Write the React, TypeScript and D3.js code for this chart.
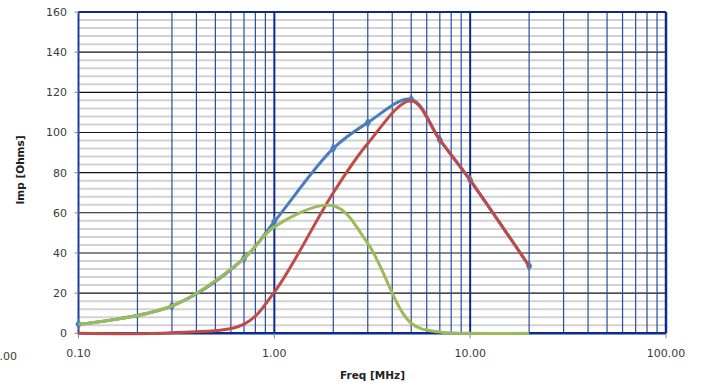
import React from "react";
import * as d3 from "d3";

const freqs = [0.1, 0.3, 0.7, 1, 2, 3, 5, 7, 10, 20];
const blueImp = [4.5, 13.6, 37.3, 55.6, 92.1, 104.9, 116.5, 96.3, 76.3, 33.5];
const redImp = [0, 0.3, 4.6, 20.5, 70, 94.5, 115.8, 96.3, 76.3, 33.5];
const greenImp = [4.5, 13.6, 37.3, 53, 63.5, 44.8, 5, 0.6, 0, 0];
const yTicks = [0, 20, 40, 60, 80, 100, 120, 140, 160];
const xTickLabels = ["0.10", "1.00", "10.00", "100.00"];
const xTickValues = [0.1, 1, 10, 100];

const W = 702;
const H = 383;
const L = 78.5;
const R = 666;
const T = 12;
const B = 333.3;

export default function App() {
  const x = d3.scaleLog().domain([0.1, 100]).range([L, R]);
  const y = d3.scaleLinear().domain([0, 160]).range([B, T]);

  const minorY = d3.range(0, 161, 4).filter((v) => v % 20 !== 0);
  const minorX: number[] = [];
  const majorX: number[] = [1, 10];
  [0.1, 1, 10].forEach((dec) => {
    for (let k = 2; k <= 9; k++) minorX.push(dec * k);
  });

  const line = d3
    .line<[number, number]>()
    .x((d) => x(d[0]))
    .y((d) => y(d[1]))
    .curve(d3.curveCatmullRom.alpha(0.5));

  const toPts = (vals: number[]) => freqs.map((f, i) => [f, vals[i]] as [number, number]);

  const diamond = d3.symbol().type(d3.symbolDiamond).size(34)() as string;

  return (
    <svg width={W} height={H} style={{ position: "absolute", left: 0, top: 0 }}>
      <rect x={0} y={0} width={W} height={H} fill="#fff" />
      {/* minor horizontal grid */}
      {minorY.map((v) => (
        <line key={"mh" + v} x1={L} x2={R} y1={y(v)} y2={y(v)} stroke="#d2d2d2" strokeWidth={2} />
      ))}
      {/* major horizontal grid */}
      {yTicks.map((v) => (
        <line key={"Mh" + v} x1={L} x2={R} y1={y(v)} y2={y(v)} stroke="#111" strokeWidth={1.1} />
      ))}
      {/* minor vertical grid */}
      {minorX.map((f) => (
        <line key={"mv" + f} x1={x(f)} x2={x(f)} y1={T} y2={B} stroke="#2b4aa3" strokeWidth={1.2} />
      ))}
      {majorX.map((f) => (
        <line key={"Mv" + f} x1={x(f)} x2={x(f)} y1={T} y2={B} stroke="#0c2a92" strokeWidth={2} />
      ))}
      {/* borders */}
      <line x1={L} x2={R} y1={T} y2={T} stroke="#0c2a92" strokeWidth={2} />
      <line x1={R} x2={R} y1={T} y2={B} stroke="#0c2a92" strokeWidth={2.5} />
      <line x1={L} x2={L} y1={T} y2={B + 1} stroke="#1e3f9e" strokeWidth={2} />
      <line x1={L} x2={R} y1={B} y2={B} stroke="#0c2a92" strokeWidth={2.5} />
      {/* y ticks */}
      {yTicks.map((v) => (
        <g key={"yt" + v}>
          <line x1={L - 4} x2={L} y1={y(v)} y2={y(v)} stroke="#888" strokeWidth={1} />
          <text x={67} y={y(v) + 4} textAnchor="end" fontFamily="DejaVu Sans, Verdana, sans-serif" fontSize={11} fill="#3a3a3a">
            {v}
          </text>
        </g>
      ))}
      {/* x ticks */}
      {xTickValues.map((f, i) => (
        <g key={"xt" + f}>
          <line x1={x(f)} x2={x(f)} y1={B} y2={B + 5} stroke="#888" strokeWidth={1} />
          <text x={x(f)} y={357} textAnchor="middle" fontFamily="DejaVu Sans, Verdana, sans-serif" fontSize={11} fill="#3a3a3a">
            {xTickLabels[i]}
          </text>
        </g>
      ))}
      <text x={17} y={360} textAnchor="end" fontFamily="DejaVu Sans, Verdana, sans-serif" fontSize={11} fill="#3a3a3a">
        1.00
      </text>
      {/* axis titles */}
      <text x={372.5} y={379} textAnchor="middle" fontFamily="DejaVu Sans, Verdana, sans-serif" fontSize={10.5} fontWeight="bold" fill="#222">
        Freq [MHz]
      </text>
      <text
        transform={`translate(24,170) rotate(-90)`}
        textAnchor="middle"
        fontFamily="DejaVu Sans, Verdana, sans-serif"
        fontSize={10.5}
        fontWeight="bold"
        fill="#222"
      >
        Imp [Ohms]
      </text>
      {/* series */}
      <path d={line(toPts(blueImp)) as string} fill="none" stroke="#4a7ebb" strokeWidth={3} strokeLinejoin="round" />
      {freqs.map((f, i) => (
        <path key={"mk" + f} d={diamond} transform={`translate(${x(f)},${y(blueImp[i])})`} fill="#4a7ebb" />
      ))}
      <path d={line(toPts(redImp)) as string} fill="none" stroke="#be4b48" strokeWidth={3} strokeLinejoin="round" />
      <path d={line(toPts(greenImp)) as string} fill="none" stroke="#9bbb59" strokeWidth={3} strokeLinejoin="round" />
    </svg>
  );
}
